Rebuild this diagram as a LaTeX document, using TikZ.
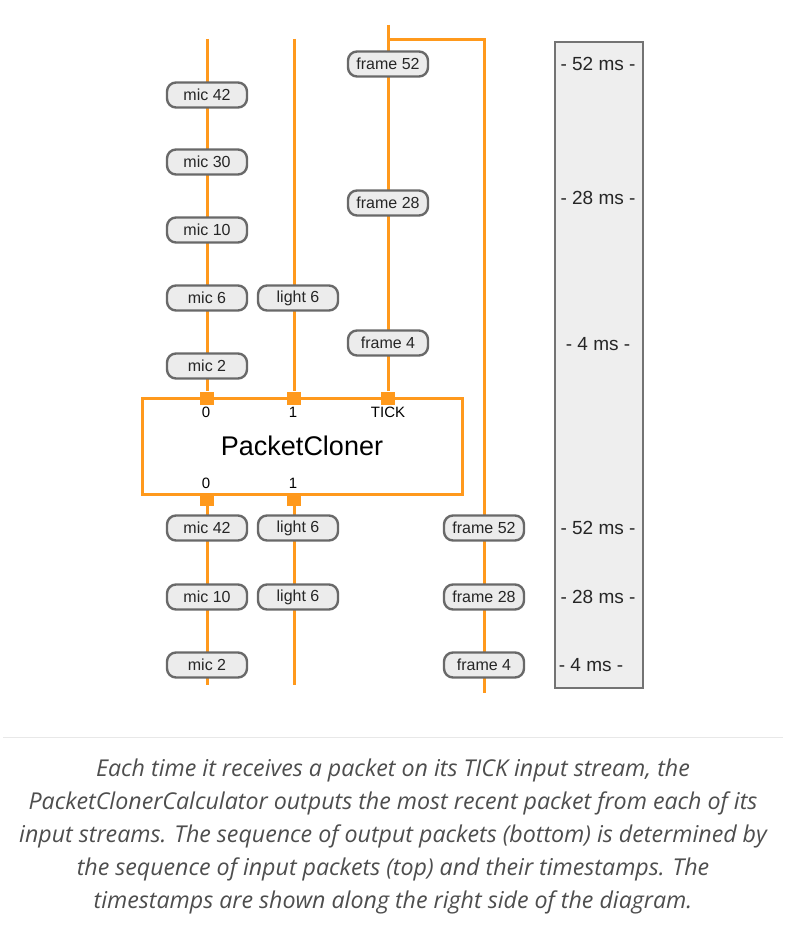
\documentclass[tikz,border=0pt]{standalone}
\usepackage{fontspec}
\setmainfont{Liberation Sans}
\newfontfamily\capfont{Open Sans}
\usetikzlibrary{backgrounds}
\definecolor{orng}{RGB}{255,153,28}
\definecolor{pillfill}{RGB}{236,236,236}
\definecolor{pilldraw}{RGB}{105,105,105}
\definecolor{panelfill}{RGB}{238,238,238}
\definecolor{panelframe}{RGB}{115,115,115}
\definecolor{captext}{RGB}{78,78,78}
\definecolor{sepline}{RGB}{232,232,232}
\begin{document}
\begin{tikzpicture}[x=1pt,y=-1pt,
  pill/.style={draw=pilldraw,fill=pillfill,line width=2.4pt,rounded corners=9pt,
    minimum width=80pt,minimum height=25pt,inner sep=0pt,
    font=\fontsize{16}{16}\selectfont,text=black!85},
  port/.style={fill=orng,minimum width=14pt,minimum height=13pt,inner sep=0pt},
  wire/.style={draw=orng,line width=3pt},
  plabel/.style={font=\fontsize{15}{15}\selectfont,inner sep=0pt},
  tslabel/.style={font=\fontsize{19}{19}\selectfont,text=black!85,inner sep=0pt}]
\useasboundingbox (0,0) rectangle (786,936);

% timestamp panel
\node[draw=panelframe,fill=panelfill,line width=2.2pt,minimum width=88pt,minimum height=646pt,inner sep=0pt] (panel) at (599,365) {};
\node[tslabel] (t1) at (598,64) {- 52 ms -};
\node[tslabel] (t2) at (598,198) {- 28 ms -};
\node[tslabel] (t3) at (598,344) {- 4 ms -};
\node[tslabel] (t4) at (598,528) {- 52 ms -};
\node[tslabel] (t5) at (598,597) {- 28 ms -};
\node[tslabel] (t6) at (591,665) {- 4 ms -};

% calculator box
\node[draw=orng,line width=3pt,minimum width=320pt,minimum height=96pt,inner sep=0pt,
  font=\fontsize{27}{27}\selectfont] (pc) at (302,446) {PacketCloner};

% ports
\node[port] (p0in) at (207,398) {};
\node[port] (p1in) at (294,398) {};
\node[port] (ptick) at (388,398) {};
\node[port] (p0out) at (207,499) {};
\node[port] (p1out) at (294,499) {};
\node[plabel] (l0in) at (206,412) {0};
\node[plabel] (l1in) at (293,412) {1};
\node[plabel] (ltick) at (388,412) {TICK};
\node[plabel] (l0out) at (206,483) {0};
\node[plabel] (l1out) at (293,483) {1};

% wire end points
\coordinate (micTop) at (207,39);
\coordinate (lightTop) at (294,39);
\coordinate (frameTop) at (388,25);
\coordinate (branch) at (388,40);
\coordinate (frameBot) at (484,693);
\coordinate (micBot) at (207,685);
\coordinate (lightBot) at (294,685);

% input packets
\node[pill] (m42) at (207,95) {mic 42};
\node[pill] (m30) at (207,162) {mic 30};
\node[pill] (m10) at (207,230) {mic 10};
\node[pill] (m6) at (207,298) {mic 6};
\node[pill] (m2) at (207,366) {mic 2};
\node[pill] (li6) at (298,298) {light 6};
\node[pill] (f52) at (388,64) {frame 52};
\node[pill] (f28) at (388,203) {frame 28};
\node[pill] (f4) at (388,343) {frame 4};

% output packets
\node[pill] (om42) at (207,528) {mic 42};
\node[pill] (om10) at (207,597) {mic 10};
\node[pill] (om2) at (207,665) {mic 2};
\node[pill] (ol6a) at (298,528) {light 6};
\node[pill] (ol6b) at (298,597) {light 6};
\node[pill] (of52) at (484,528) {frame 52};
\node[pill] (of28) at (484,597) {frame 28};
\node[pill] (of4) at (484,665) {frame 4};

\begin{scope}[on background layer]
\fill[white] (0,0) rectangle (786,936);
\draw[wire] (micTop) -- (p0in);
\draw[wire] (lightTop) -- (p1in);
\draw[wire] (frameTop) -- (ptick);
\draw[wire,line join=miter] (branch) -| (frameBot);
\draw[wire] (p0out) -- (micBot);
\draw[wire] (p1out) -- (lightBot);
\end{scope}

% separator and caption
\draw[sepline,line width=1pt] (3,737) -- (783,737);
\node[align=center,text=captext,inner sep=0pt,
  font=\capfont\itshape\fontsize{23.2}{33}\selectfont] (cap) at (393,836)
  {Each time it receives a packet on its TICK input stream, the\\
   PacketClonerCalculator outputs the most recent packet from each of its\\
   input streams. The sequence of output packets (bottom) is determined by\\
   the sequence of input packets (top) and their timestamps. The\\
   timestamps are shown along the right side of the diagram.};
\end{tikzpicture}
\end{document}
